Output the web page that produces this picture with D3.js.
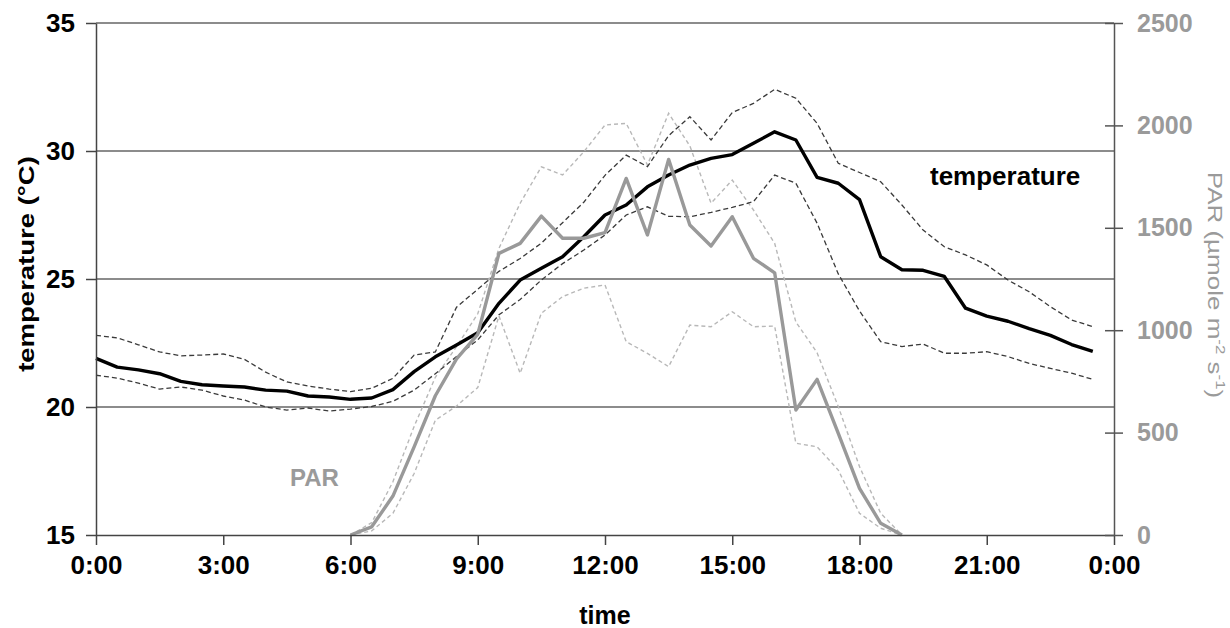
<!DOCTYPE html>
<html>
<head>
<meta charset="utf-8">
<script src="https://cdn.jsdelivr.net/npm/d3@7"></script>
<style>
  html, body { margin: 0; padding: 0; background: #fff; }
  svg { display: block; font-family: "Liberation Sans", Arial, sans-serif; }
</style>
</head>
<body>
<svg id="chart" width="1230" height="628"></svg>
<script>
// ---------- data ----------
const times = ["0:00","0:30","1:00","1:30","2:00","2:30","3:00","3:30","4:00","4:30","5:00","5:30",
  "6:00","6:30","7:00","7:30","8:00","8:30","9:00","9:30","10:00","10:30","11:00","11:30",
  "12:00","12:30","13:00","13:30","14:00","14:30","15:00","15:30","16:00","16:30","17:00","17:30",
  "18:00","18:30","19:00","19:30","20:00","20:30","21:00","21:30","22:00","22:30","23:00","23:30"];

const tempMean = [21.9,21.56,21.45,21.3,21.0,20.87,20.82,20.78,20.66,20.62,20.43,20.39,
  20.3,20.35,20.68,21.38,21.96,22.42,22.9,24.05,24.96,25.42,25.87,26.65,
  27.5,27.89,28.6,29.06,29.45,29.71,29.86,30.3,30.75,30.43,28.97,28.74,
  28.1,25.87,25.36,25.34,25.1,23.86,23.55,23.35,23.06,22.8,22.44,22.17];

const tempUpper = [22.8,22.7,22.43,22.15,22.0,22.03,22.07,21.86,21.36,20.98,20.82,20.7,
  20.6,20.73,21.12,22.03,22.15,23.9,24.6,25.3,25.8,26.4,27.2,28.0,
  29.05,29.84,29.39,30.6,31.34,30.43,31.5,31.86,32.41,32.06,31.08,29.52,
  29.16,28.8,27.89,26.91,26.26,25.94,25.55,24.96,24.5,23.92,23.4,23.14];

const tempLower = [21.24,21.13,20.93,20.7,20.78,20.66,20.43,20.27,20.0,19.88,19.96,19.84,
  19.92,20.02,20.22,20.66,21.3,21.97,22.62,23.6,24.2,24.96,25.6,26.13,
  26.72,27.5,27.82,27.45,27.43,27.6,27.8,28.02,29.06,28.74,27.18,25.2,
  23.75,22.55,22.36,22.46,22.1,22.1,22.16,21.97,21.7,21.51,21.32,21.08];

const parTimes = ["6:00","6:30","7:00","7:30","8:00","8:30","9:00","9:30","10:00","10:30","11:00","11:30",
  "12:00","12:30","13:00","13:30","14:00","14:30","15:00","15:30","16:00","16:30","17:00","17:30",
  "18:00","18:30","19:00"];

const parMean = [0,40,190,430,680,860,980,1375,1424,1557,1449,1449,
  1476,1741,1465,1834,1514,1411,1554,1351,1280,610,760,496,228,57,0];

const parUpper = [0,60,260,530,770,920,1080,1400,1620,1798,1758,1871,
  2002,2010,1807,2059,1900,1620,1733,1587,1424,1040,890,627,334,106,0];

const parLower = [0,20,106,300,560,630,720,1070,790,1083,1164,1205,
  1221,944,887,822,1025,1017,1090,1017,1020,448,431,317,106,33,0];

const tempTicks = [15,20,25,30,35];
const gridTemps = [20,25,30,35];
const parTicks = [0,500,1000,1500,2000,2500];
const xTickHours = [0,3,6,9,12,15,18,21,24];
const xTickLabels = ["0:00","3:00","6:00","9:00","12:00","15:00","18:00","21:00","0:00"];

// ---------- helpers ----------
const toHours = s => { const [h,m] = s.split(":").map(Number); return h + m/60; };

// ---------- layout ----------
const L = 96, R = 1114, T = 23, B = 535;
const svg = d3.select("#chart");
const x = d3.scaleLinear().domain([0,24]).range([L,R]);
const yT = d3.scaleLinear().domain([15,35]).range([B,T]);
const yP = d3.scaleLinear().domain([0,2500]).range([B,T]);

const GRAY_TXT = "#9a9a9a";

// gridlines
svg.append("g").selectAll("line").data(gridTemps).join("line")
  .attr("x1", L).attr("x2", R)
  .attr("y1", d => yT(d)).attr("y2", d => yT(d))
  .attr("stroke", "#666").attr("stroke-width", 1.5);

// lines
const tempLine = arr => d3.line().x((d,i) => x(toHours(times[i]))).y(d => yT(d))(arr);
const parLine = arr => d3.line().x((d,i) => x(toHours(parTimes[i]))).y(d => yP(d))(arr);

svg.append("path").attr("d", parLine(parUpper)).attr("fill","none")
  .attr("stroke","#b8b8b8").attr("stroke-width",1.4).attr("stroke-dasharray","4,3");
svg.append("path").attr("d", parLine(parLower)).attr("fill","none")
  .attr("stroke","#b8b8b8").attr("stroke-width",1.4).attr("stroke-dasharray","4,3");

svg.append("path").attr("d", tempLine(tempUpper)).attr("fill","none")
  .attr("stroke","#3a3a3a").attr("stroke-width",1.3).attr("stroke-dasharray","5,3");
svg.append("path").attr("d", tempLine(tempLower)).attr("fill","none")
  .attr("stroke","#3a3a3a").attr("stroke-width",1.3).attr("stroke-dasharray","5,3");

svg.append("path").attr("d", tempLine(tempMean)).attr("fill","none")
  .attr("stroke","#000").attr("stroke-width",3.4).attr("stroke-linejoin","round");

svg.append("path").attr("d", parLine(parMean)).attr("fill","none")
  .attr("stroke","#999").attr("stroke-width",3.4).attr("stroke-linejoin","round");

// axes
const leftAxis = svg.append("g").attr("transform", `translate(${L},0)`)
  .call(d3.axisLeft(yT).tickValues(tempTicks).tickSize(10).tickPadding(11).tickSizeOuter(0));
leftAxis.select(".domain").attr("stroke","#444").attr("stroke-width",1.5);
leftAxis.selectAll(".tick line").attr("stroke","#444").attr("stroke-width",1.5);
leftAxis.selectAll(".tick text").attr("font-size",26).attr("font-weight","bold")
  .attr("fill","#000").attr("font-family","Liberation Sans, Arial, sans-serif");

const bottomAxis = svg.append("g").attr("transform", `translate(0,${B})`)
  .call(d3.axisBottom(x).tickValues(xTickHours).tickFormat((d,i) => xTickLabels[i])
    .tickSize(10).tickPadding(11).tickSizeOuter(0));
bottomAxis.select(".domain").attr("stroke","#444").attr("stroke-width",1.5);
bottomAxis.selectAll(".tick line").attr("stroke","#444").attr("stroke-width",1.5);
bottomAxis.selectAll(".tick text").attr("font-size",26).attr("font-weight","bold")
  .attr("fill","#000").attr("font-family","Liberation Sans, Arial, sans-serif");

const rightAxis = svg.append("g").attr("transform", `translate(${R},0)`)
  .call(d3.axisRight(yP).tickValues(parTicks).tickFormat(d3.format("d"))
    .tickSize(9).tickPadding(14).tickSizeOuter(0));
rightAxis.select(".domain").attr("stroke","#555").attr("stroke-width",1.5);
rightAxis.selectAll(".tick line").attr("x1",-9).attr("stroke","#555").attr("stroke-width",1.5);
rightAxis.selectAll(".tick text").attr("font-size",25).attr("font-weight","bold")
  .attr("fill",GRAY_TXT).attr("font-family","Liberation Sans, Arial, sans-serif");

// axis titles
svg.append("text")
  .attr("transform","translate(34,264) rotate(-90) scale(1.25,1)")
  .attr("text-anchor","middle").attr("font-size",22).attr("font-weight","bold")
  .attr("fill","#000").text("temperature (°C)");

svg.append("text").attr("x",605).attr("y",624).attr("text-anchor","middle")
  .attr("font-size",25).attr("font-weight","bold").attr("fill","#000").text("time");

const rt = svg.append("text")
  .attr("transform","translate(1208,285) rotate(90) scale(1.3,1)")
  .attr("text-anchor","middle").attr("font-size",20).attr("fill",GRAY_TXT);
rt.append("tspan").text("PAR (µmole m");
rt.append("tspan").attr("font-size",13).attr("dy",-8).text("-2");
rt.append("tspan").attr("dy",8).text(" s");
rt.append("tspan").attr("font-size",13).attr("dy",-8).text("-1");
rt.append("tspan").attr("dy",8).text(")");

// series labels
svg.append("text").attr("x",930).attr("y",185).attr("font-size",26).attr("font-weight","bold")
  .attr("fill","#000").text("temperature");
svg.append("text").attr("x",290).attr("y",486).attr("font-size",24).attr("font-weight","bold")
  .attr("fill",GRAY_TXT).text("PAR");
</script>
</body>
</html>
